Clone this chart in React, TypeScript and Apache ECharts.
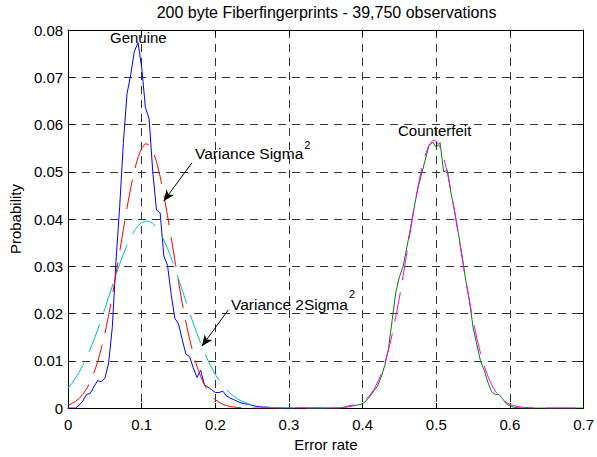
import React, { useEffect, useRef } from "react";
import * as echarts from "echarts";

// Histogram bin width (error rate resolution of a 200-byte print)
const BIN = 0.005;

// Genuine comparisons: bins from 0.000 to 0.350
const GENUINE_START = 0;
const GENUINE_HIST = [
  0, 0, 0, 0.0006, 0.0015, 0.0029, 0.0031, 0.0045, 0.0058, 0.0056,
  0.0063, 0.0095, 0.017, 0.031, 0.0425, 0.056, 0.0665, 0.0705, 0.0755, 0.0773,
  0.072, 0.0636, 0.0612, 0.05, 0.0419, 0.0413, 0.0322, 0.0302, 0.024, 0.019,
  0.0178, 0.0145, 0.0114, 0.0109, 0.0085, 0.0065, 0.008, 0.005, 0.0044, 0.0039,
  0.0033, 0.0033, 0.0036, 0.0026, 0.0021, 0.0018, 0.0014, 0.0011, 0.0009, 0.0008,
  0.0006, 0.0004, 0.0003, 0.0002, 0.0002, 0.0001, 0.0001, 0.0001, 0, 0,
  0, 0, 0, 0, 0, 0, 0, 0, 0, 0, 0,
];
const GENUINE_FIT_SIGMA = [
  0.00063, 0.00095, 0.00141, 0.00204, 0.0029, 0.00405, 0.00553, 0.00741, 0.00973, 0.01253,
  0.01582, 0.01959, 0.02377, 0.02829, 0.03301, 0.03777, 0.04236, 0.04659, 0.05023, 0.05311,
  0.05504, 0.05594, 0.05575, 0.05446, 0.05217, 0.04899, 0.04512, 0.04073, 0.03606, 0.0313,
  0.02663, 0.02222, 0.01818, 0.01458, 0.01147, 0.00884, 0.00668, 0.00495, 0.0036, 0.00256,
  0.00179, 0.00123, 0.00082, 0.00054, 0.00035, 0.00022, 0.00014, 0.00008, 0.00005, 0.00003,
  0.00002, 0.00001, 0, 0, 0, 0, 0, 0, 0, 0,
  0, 0, 0, 0, 0, 0, 0, 0, 0, 0, 0,
];
const GENUINE_FIT_2SIGMA = [
  0.00423, 0.00519, 0.00631, 0.00759, 0.00905, 0.01068, 0.01248, 0.01443, 0.01654, 0.01876,
  0.02108, 0.02345, 0.02583, 0.02817, 0.03042, 0.03253, 0.03445, 0.03612, 0.03751, 0.03857,
  0.03926, 0.03958, 0.03951, 0.03905, 0.03822, 0.03705, 0.03555, 0.03379, 0.03179, 0.02962,
  0.02733, 0.02497, 0.02259, 0.02024, 0.01795, 0.01577, 0.01371, 0.01181, 0.01007, 0.00851,
  0.00711, 0.00589, 0.00483, 0.00392, 0.00315, 0.00251, 0.00198, 0.00154, 0.00119, 0.00091,
  0.00069, 0.00052, 0.00039, 0.00028, 0.00021, 0.00015, 0.00011, 0.00008, 0.00005, 0.00004,
  0.00002, 0.00001, 0, 0, 0, 0, 0, 0, 0, 0, 0,
];

// Counterfeit comparisons: bins from 0.350 to 0.700
const COUNTERFEIT_START = 0.35;
const COUNTERFEIT_HIST = [
  0, 0, 0, 0, 0, 0.0002, 0.0004, 0.0006, 0.0006, 0.0007,
  0.0009, 0.0016, 0.0025, 0.0036, 0.0046, 0.0065, 0.009, 0.0125, 0.0185, 0.0245,
  0.0278, 0.03, 0.034, 0.0381, 0.0425, 0.0465, 0.0495, 0.0525, 0.0555, 0.0563,
  0.0552, 0.0562, 0.05, 0.0503, 0.0455, 0.0415, 0.037, 0.0322, 0.027, 0.0228,
  0.017, 0.0135, 0.01, 0.008, 0.0055, 0.0035, 0.0029, 0.0029, 0.002, 0.0009,
  0.0005, 0.0002, 0.0001, 0, 0, 0, 0, 0, 0, 0,
  0, 0, 0, 0, 0, 0, 0, 0, 0, 0, 0,
];
const COUNTERFEIT_FIT = [
  0.00001, 0.00002, 0.00003, 0.00005, 0.00009, 0.00015, 0.00024, 0.00038, 0.00059, 0.00089,
  0.00133, 0.00194, 0.00277, 0.00388, 0.00532, 0.00717, 0.00946, 0.01223, 0.01551, 0.01928,
  0.02348, 0.02805, 0.03284, 0.03768, 0.04239, 0.04674, 0.05053, 0.05353, 0.0556, 0.05661,
  0.0565, 0.05527, 0.053, 0.04982, 0.04591, 0.04147, 0.03672, 0.03187, 0.02711, 0.02261,
  0.01848, 0.01482, 0.01163, 0.00896, 0.00676, 0.00501, 0.00363, 0.00258, 0.0018, 0.00123,
  0.00082, 0.00054, 0.00035, 0.00022, 0.00014, 0.00008, 0.00005, 0.00003, 0.00002, 0.00001,
  0, 0, 0, 0, 0, 0, 0, 0, 0, 0, 0,
];

// Annotation arrows (data coordinates: [from, to])
const ARROW_SIGMA = [[0.1682, 0.0519], [0.1299, 0.0438]];
const ARROW_2SIGMA = [[0.2176, 0.0208], [0.1817, 0.0131]];

const TITLE = "200 byte Fiberfingerprints - 39,750 observations";
const X_NAME = "Error rate";
const Y_NAME = "Probability";

const FONT = "'Liberation Sans', Arial, Helvetica, sans-serif";

function pairs(start: number, values: number[]) {
  return values.map((v, i) => [+(start + i * BIN).toFixed(3), v]);
}

function textWidth(text: string, size: number) {
  const ctx = document.createElement("canvas").getContext("2d");
  if (!ctx) return text.length * size * 0.5;
  ctx.font = `${size}px ${FONT}`;
  return ctx.measureText(text).width;
}

export default function App() {
  const ref = useRef<HTMLDivElement>(null);
  useEffect(() => {
    if (!ref.current) return;
    const chart = echarts.init(ref.current, null, { renderer: "svg" });
    const dash = [30, 12];
    const gridLine = { show: true, lineStyle: { color: "#333", type: [8, 6] as any, width: 1 } };
    const axisLine = { show: true, onZero: false, lineStyle: { color: "#000", width: 1 } };
    const tick = { show: true, inside: true, length: 5, lineStyle: { color: "#000" } };
    const labelStyle = { color: "#000", fontSize: 15, fontFamily: FONT };
    const txt = (text: string, x: number, y: number, size: number, align = "left") => ({
      type: "text",
      x,
      y,
      silent: true,
      style: { text, fontSize: size, fontFamily: FONT, fill: "#000", align, verticalAlign: "middle" },
    });
    const line = (name: string, data: any, color: string, dashed: boolean, extra: any = {}) => ({
      name,
      type: "line",
      data,
      symbol: "none",
      showSymbol: false,
      xAxisIndex: 0,
      yAxisIndex: 0,
      lineStyle: { color, width: 1, type: dashed ? (dash as any) : "solid" },
      ...extra,
    });
    const annSize = 15.5;
    const sigmaText = "Variance Sigma";
    const sigma2Text = "Variance 2Sigma";
    const sigmaEnd = 195 + textWidth(sigmaText, annSize);
    const sigma2End = 231 + textWidth(sigma2Text, annSize);
    chart.setOption({
      animation: false,
      backgroundColor: "#fff",
      grid: { left: 67, right: 11, top: 30, bottom: 45, containLabel: false },
      xAxis: [
        {
          type: "value",
          min: 0,
          max: 0.7,
          interval: 0.1,
          position: "bottom",
          axisLine,
          axisTick: tick,
          splitLine: gridLine,
          axisLabel: {
            ...labelStyle,
            margin: 9,
            formatter: (v: number) => (v === 0 ? "0" : v.toFixed(1)),
          },
          name: X_NAME,
          nameLocation: "middle",
          nameGap: 26,
          nameTextStyle: { ...labelStyle },
        },
        {
          type: "value",
          min: 0,
          max: 0.7,
          interval: 0.1,
          position: "top",
          axisLine,
          axisTick: tick,
          splitLine: { show: false },
          axisLabel: { show: false },
        },
      ],
      yAxis: [
        {
          type: "value",
          min: 0,
          max: 0.08,
          interval: 0.01,
          position: "left",
          axisLine,
          axisTick: tick,
          splitLine: gridLine,
          axisLabel: {
            ...labelStyle,
            margin: 5,
            formatter: (v: number) => (v === 0 ? "0" : v.toFixed(2)),
          },
          name: Y_NAME,
          nameLocation: "middle",
          nameGap: 42,
          nameRotate: 90,
          nameTextStyle: { ...labelStyle },
        },
        {
          type: "value",
          min: 0,
          max: 0.08,
          interval: 0.01,
          position: "right",
          axisLine,
          axisTick: tick,
          splitLine: { show: false },
          axisLabel: { show: false },
        },
      ],
      series: [
        line("Genuine", pairs(GENUINE_START, GENUINE_HIST), "#0000ff", false, {
          markLine: {
            silent: true,
            symbol: ["none", "arrow"],
            symbolSize: [7, 11],
            label: { show: false },
            lineStyle: { color: "#000", width: 1, type: "solid" },
            emphasis: { disabled: true },
            data: [
              [{ coord: ARROW_SIGMA[0] }, { coord: ARROW_SIGMA[1] }],
              [{ coord: ARROW_2SIGMA[0] }, { coord: ARROW_2SIGMA[1] }],
            ],
          },
        }),
        line("Variance Sigma^2", pairs(GENUINE_START, GENUINE_FIT_SIGMA), "#ff0000", true),
        line("Variance 2Sigma^2", pairs(GENUINE_START, GENUINE_FIT_2SIGMA), "#00bfbf", true),
        line("Counterfeit", pairs(COUNTERFEIT_START, COUNTERFEIT_HIST), "#008000", false),
        line("Counterfeit fit", pairs(COUNTERFEIT_START, COUNTERFEIT_FIT), "#ff00ff", true),
      ],
      graphic: [
        txt(TITLE, 326.5, 12.5, 16, "center"),
        txt("Genuine", 110, 37, 15),
        txt(sigmaText, 195, 153.5, annSize),
        txt("2", sigmaEnd + 1, 145, 11),
        txt(sigma2Text, 231, 304, annSize),
        txt("2", sigma2End + 1, 293.5, 11),
        txt("Counterfeit", 398, 130, 15),
      ],
    });
    return () => chart.dispose();
  }, []);
  return (
    <div
      ref={ref}
      style={{ position: "fixed", left: 0, top: 0, width: 597, height: 457, background: "#fff" }}
    />
  );
}
